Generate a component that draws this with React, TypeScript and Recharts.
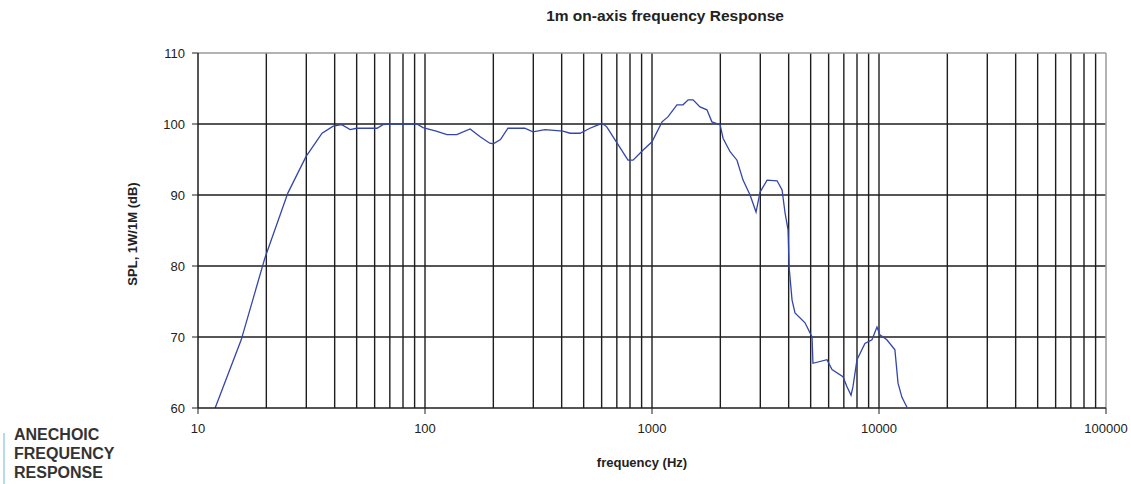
import React from 'react';
import { LineChart, Line, XAxis, YAxis, ReferenceLine } from 'recharts';

// (Hz, dB)
const freq = [
  11.9, 15.5, 19.7, 24.9, 29.9, 35.2, 39.4, 43, 46.8, 50, 61.5, 65.3, 70, 92, 98, 112, 125, 138, 158, 175,
  193, 200, 215, 232, 275, 299, 338, 405, 436, 482, 533, 602, 632, 702, 784, 825, 912, 1000, 1107, 1175,
  1288, 1370, 1443, 1517, 1627, 1746, 1836, 1995, 2056, 2208, 2368, 2518, 2704, 2873, 2992, 3214, 3556,
  3742, 3855, 3975, 4017, 4140, 4266, 4721, 5070, 5117, 5900, 6209, 6937, 7228, 7532, 7680, 7998, 8670,
  9310, 9797, 10090, 10830, 11750, 12130, 12620, 13280,
];
const spl = [
  60, 69.6, 81.1, 90.3, 95.4, 98.7, 99.7, 99.9, 99.2, 99.4, 99.4, 99.9, 100, 100, 99.5, 99, 98.5, 98.5, 99.3, 98.2,
  97.3, 97.2, 97.8, 99.4, 99.4, 98.9, 99.2, 99.0, 98.7, 98.7, 99.4, 100.1, 99.6, 97.3, 94.9, 94.9, 96.3, 97.5, 100.3, 101.0,
  102.7, 102.7, 103.4, 103.4, 102.4, 102.0, 100.3, 99.9, 98.0, 96.1, 94.9, 92.1, 90.0, 87.6, 90.4, 92.1, 92.0,
  90.7, 87.5, 85.1, 79.9, 75.2, 73.4, 72.0, 70, 66.3, 66.8, 65.4, 64.4, 63, 61.8, 63, 66.8, 69.1,
  69.6, 71.4, 70.3, 69.6, 68.2, 63.5, 61.5, 60.1,
];

const decades = [10, 100, 1000, 10000, 100000];
const multipliers = [2, 3, 4, 5, 6, 7, 8, 9];
const yTicks = [60, 70, 80, 90, 100, 110];
const yGrid = [70, 80, 90, 100];

const data = freq.map((f, i) => ({ f, db: spl[i] }));
const xGrid = decades
  .slice(0, 4)
  .flatMap((d) => [d, ...multipliers.map((m) => d * m)])
  .filter((v) => v > 10);

const font = '"Liberation Sans", Arial, sans-serif';
const gridColor = '#1e1e1e';

export default function App() {
  return (
    <div style={{ position: 'absolute', left: 0, top: 0, width: 1131, height: 484, fontFamily: font, background: '#fff' }}>
      <div style={{ position: 'absolute', left: 665, top: 16, transform: 'translate(-50%, -50%)', fontSize: 15.5, fontWeight: 'bold', color: '#222', whiteSpace: 'nowrap' }}>
        1m on-axis frequency Response
      </div>
      <div style={{ position: 'absolute', left: 132, top: 234, transform: 'translate(-50%, -50%) rotate(-90deg)', fontSize: 13, fontWeight: 'bold', color: '#222', whiteSpace: 'nowrap' }}>
        SPL, 1W/1M (dB)
      </div>
      <div style={{ position: 'absolute', left: 642, top: 462, transform: 'translate(-50%, -50%)', fontSize: 13, fontWeight: 'bold', color: '#222', whiteSpace: 'nowrap' }}>
        frequency (Hz)
      </div>
      <div style={{ position: 'absolute', left: 3, top: 433, width: 2, height: 51, background: '#b5dbe8' }} />
      <div style={{ position: 'absolute', left: 14, top: 425, fontSize: 16, lineHeight: '19px', fontWeight: 'bold', color: '#333' }}>
        ANECHOIC
        <br />
        FREQUENCY
        <br />
        RESPONSE
      </div>
      <div style={{ position: 'absolute', left: 0, top: 0 }}>
        <LineChart width={1131} height={484} data={data} margin={{ top: 53, right: 25, left: 138, bottom: 36 }}>
          <XAxis
            dataKey="f"
            type="number"
            scale="log"
            domain={[10, 100000]}
            ticks={decades}
            allowDataOverflow
            height={40}
            tickSize={6}
            tickMargin={10}
            axisLine={{ stroke: gridColor, strokeWidth: 1.5 }}
            tickLine={{ stroke: gridColor }}
            tick={{ fontSize: 13, fill: '#222', fontFamily: font }}
          />
          <YAxis
            type="number"
            domain={[60, 110]}
            ticks={yTicks}
            width={60}
            tickSize={6}
            tickMargin={7}
            axisLine={{ stroke: gridColor, strokeWidth: 1.5 }}
            tickLine={{ stroke: gridColor }}
            tick={{ fontSize: 13, fill: '#222', fontFamily: font }}
          />
          {xGrid.map((v) => (
            <ReferenceLine key={`x${v}`} x={v} stroke={gridColor} strokeWidth={1.4} />
          ))}
          {yGrid.map((v) => (
            <ReferenceLine key={`y${v}`} y={v} stroke={gridColor} strokeWidth={1.4} />
          ))}
          <ReferenceLine y={110} stroke="#9a9a9a" strokeWidth={1.5} />
          <ReferenceLine x={100000} stroke="#9a9a9a" strokeWidth={1.5} />
          <Line
            dataKey="db"
            type="linear"
            stroke="#3346a8"
            strokeWidth={1.3}
            dot={false}
            isAnimationActive={false}
          />
        </LineChart>
      </div>
    </div>
  );
}
